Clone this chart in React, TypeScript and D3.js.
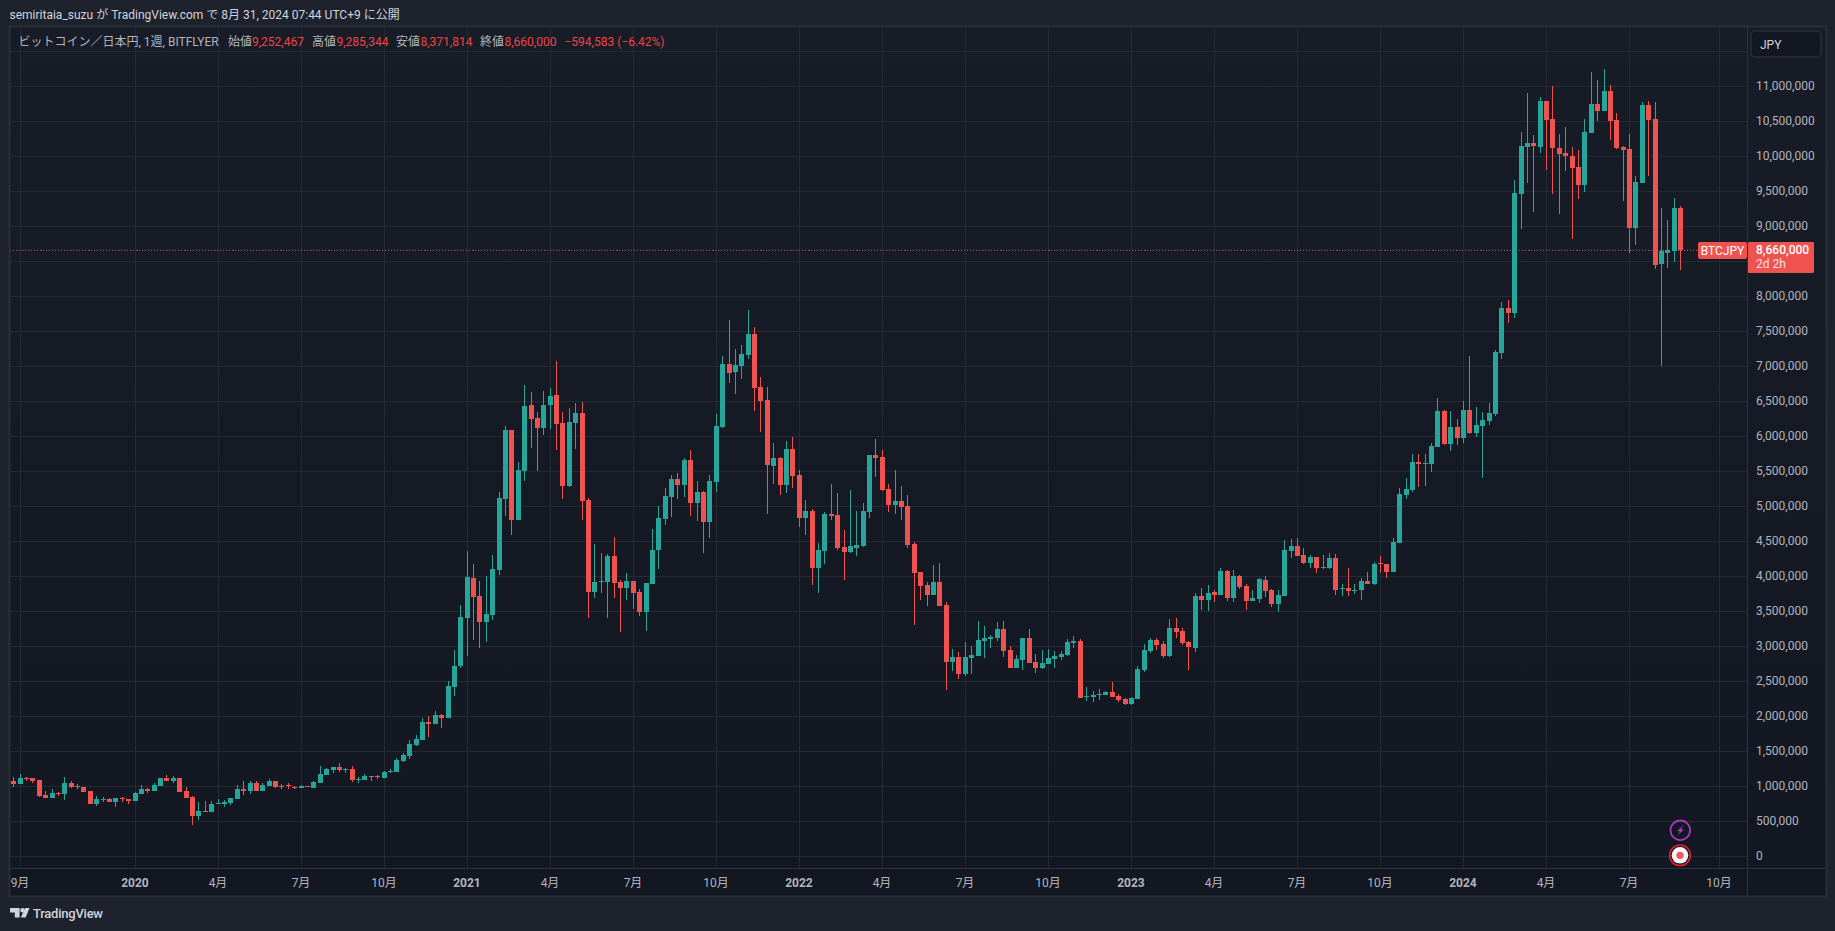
import React from "react";
import * as d3 from "d3";

// Weekly BTC/JPY candles, values in units of 10,000 JPY
const UNIT = 10000;
const opens = [
107.2,103.4,111,111.5,108.6,87.2,83.4,89.6,88.6,104.3,
100.5,98.6,92.9,74.3,80.5,81.5,77.7,82.4,81,78.6,
88.6,95.7,92.9,100,111,107.2,111.5,92.9,84.3,57.2,
64.3,62.9,74.3,74.3,75.8,81.5,95.7,92.9,104.3,92.9,
100,107.2,100.5,101,99,97.7,100,97.2,104.3,115.8,
122.9,127.2,123.4,124.3,109.6,108.6,114.3,114.3,111.5,120.9,
120,135.3,142.9,158.6,165.8,191.5,188.6,201.5,197.1,241.4,
271.4,340,397.1,371.4,334.2,344.2,408.5,510,608.5,480,
550,644.3,625.7,611.4,644.3,658.5,618.5,528.5,618.5,632.8,
508.5,377.1,391.9,391.4,428.5,391.4,382.8,392.8,377.1,348.5,
388.5,437.1,481.4,512.8,538.5,530,565.7,504.3,520,477.1,
534.3,612.8,702.9,691.4,700,715.7,745.7,670,651.4,557.1,
568.6,530,581.4,544.3,482.9,492.9,411.4,435.7,488.6,487.1,
441.4,434.3,440,442.9,491.4,572.9,570,524.3,501.4,507.1,
500,445.7,405.7,387.1,372.9,391.4,358.6,277.1,284.3,260,
282.9,285.7,307.2,310,311.4,324.3,294.3,268.6,280,311.4,
277.1,268.6,274.3,281.4,284.3,287.1,304.3,307.2,227.2,227.2,
230,230,234.3,228.6,224.3,217.2,224.3,265.7,292.9,308.6,
302.9,285.7,325.7,321.4,305.7,297.2,371.4,365.7,377.2,372.9,
407.2,368.6,400,385.7,364.3,367.2,394.3,380,360,371.4,
435.7,442.9,430,418.6,427.2,411.4,411.4,425.7,381.4,382.9,
378.6,380,392.9,388.6,418.6,417.2,405.7,447.2,515.7,522.9,
562.9,560,560,584.3,635.7,588.6,612.9,597.2,637.1,604.3,
614.3,621.4,631.4,718.6,782.9,775.7,945.7,1012.8,1018.6,1012.8,
1078.6,1052.8,1011.4,1004.3,1000,984.3,958.6,1032.8,1074.3,1064.3,
1092.9,1051.4,1012.9,1010,897.1,961.4,1072.9,1052.8,845.7,861.4,864.3,925.2467];

const highs = [
112.4,117.2,112.9,111.5,108.6,92.9,95.7,92,112.9,107.2,
102.9,98.6,92.9,85.8,84.3,82.9,82.9,84.3,81,91.5,
101.5,97.2,104.3,111.5,115.8,114.3,111.5,98.6,85.8,77.2,
78.6,78.6,81.5,80,82.9,101.5,107.2,107.2,107.2,104.3,
110,107.2,102.9,103.8,100.5,101.5,100.5,107.2,128.6,125.8,
127.2,132.9,125.8,128.6,112.9,117.2,114.3,115.8,121.5,124.3,
140,147.2,165.8,172.9,197.2,200,207.2,202.9,250,294.2,
358.5,435.7,417.1,392.8,400,430,520,614.3,608.5,562.8,
672.8,662.8,634.2,664.3,668.5,707.1,634.2,640,647.1,648.5,
511.4,445.7,432.8,431.4,455.7,394.3,404.3,392.8,381.4,390,
467.1,500,525.7,544.3,547.1,568.5,580,535.7,521.4,544.3,
631.4,714.3,765.7,724.3,730,780,755.7,684.3,670,590,
570,592.9,598.6,551.4,508.6,495.7,447.1,491.4,531.4,518.6,
465.7,522.9,492.9,504.3,572.9,595.7,580,531.4,551.4,528.6,
515.7,448.6,405.7,391.4,415.7,418.6,362.9,295.7,291.4,305.7,
300,335.7,328.6,315.7,334.3,335.7,300,287.1,311.4,324.3,
288.6,294.3,295.7,292.9,292.9,310,314.3,310,241.4,235.7,
238.6,235.7,248.6,231.4,225.7,227.2,271.4,302.9,311.4,311.4,
307.2,338.6,340,325.7,307.2,375.7,382.9,387.2,380,411.4,
408.6,408.6,401.4,388.6,380,397.2,400,381.4,380,451.4,
452.9,454.3,440,430,427.2,430,432.9,431.4,388.6,411.4,
388.6,397.2,405.7,420,428.6,417.2,454.3,525.7,540,574.3,
574.3,574.3,590,654.3,637.2,635.7,624.3,650,714.3,641.4,
634.2,647.1,722.9,791.4,794.3,965.7,1034.3,1090,1030,1084.3,
1078.6,1100,1031.4,1041.4,1012.9,1008.6,1052.8,1120,1108.6,1124.3,
1101.4,1061.4,1014.3,1031.4,971.4,1077.1,1078.6,1077.1,925.7,908.6,940,928.5344];

const lows = [
98.6,103.4,107.2,104.3,84.8,83.4,83.4,85.8,80,97.2,
96.2,91.9,74.3,71.5,77.2,77.2,70,77.2,74.3,78.6,
88.6,90,92.9,100,107.2,104.3,91.5,82.9,44.3,51.5,
63.4,62.9,74.3,70,72.9,81.5,87.2,88.6,92.9,92.9,
100,97.2,95.7,95.7,95.7,97.2,98.1,97.2,104.3,115.8,
118.6,120,118.6,105.8,104.3,108.6,107.2,110,111.5,118.6,
120,134.3,138.6,157.2,165.8,170,188.6,182.9,197.1,228.5,
268.5,285.7,308.5,297.1,305.7,337.1,401.4,485.7,458.5,480,
535.7,582.8,550,601.4,610,580,510,527.1,581.4,480,
340,368.5,375.7,340,368.5,320,365.7,352.8,342.8,321.4,
388.5,410,472.8,484.3,510,512.8,485.7,478.5,432.8,454.3,
520,611.4,675.7,660,681.4,710,635.7,605.7,488.6,531.4,
515.7,518.6,525.7,470,458.6,387.1,375.7,417.1,480,437.1,
394.3,432.9,428.6,441.4,482.9,541.4,521.4,491.4,488.6,480,
440,330,365.7,357.1,372.9,357.1,237.1,264.3,252.9,257.1,
260,285.7,282.9,297.2,307.2,284.3,268.6,268.6,265.7,275.7,
261.4,267.2,274.3,268.6,280,285.7,297.2,225.7,221.4,220,
222.9,230,227.2,220,215.7,215.7,224.3,262.9,290,294.3,
282.9,284.3,311.4,301.4,265.7,291.4,351.4,350,362.9,372.9,
364.3,362.9,381.4,351.4,364.3,361.4,370,355.7,348.6,371.4,
425.7,428.6,417.2,411.4,404.3,410,410,372.9,371.4,371.4,
374.3,365.7,388.6,387.2,404.3,397.2,405.7,447.2,510,520,
527.1,528.6,548.6,584.3,587.2,578.6,587.2,590,602.9,598.6,
540,615.7,628.6,710,761.4,768.6,895.7,961.4,920,1004.3,
980,945.7,917.1,978.6,881.4,938.6,948.6,1032.8,1050,1064.3,
1022.9,1010,935.7,861.4,872.9,961.4,971.4,838.6,700,840,848.6,837.1814];

const closes = [
103.4,111.5,109.6,107.2,85.8,83.4,90,88.1,104.3,98.6,
99.6,91.9,74.3,81.5,81.5,77.7,82.9,81.5,78.6,90,
95.7,92.9,101.5,111.5,107.2,111,91.5,82.9,57.2,64.3,
63.4,74.3,75.8,77.2,82.9,95.7,92.9,104.3,92.9,101.5,
107.2,98.6,99.6,99.6,97.7,100,99,105.8,117.2,124.3,
127.2,122.9,124.3,108.6,110.5,114.3,113.4,112.9,120,121.9,
137.2,144.3,160,167.2,191.5,188.6,201.5,197.2,242.8,271.4,
341.4,398.5,370,334.2,345.7,410,511.4,608.5,480,551.4,
642.8,624.3,611.4,644.3,657.1,617.1,528.5,620,632.8,507.1,
377.1,391.4,392.8,428.5,390,382.8,392.8,375.7,348.5,390,
437.1,482.8,514.3,538.5,530,565.7,504.3,520,477.1,535.7,
614.3,702.8,690,701.4,717.1,745.7,668.6,650,558.6,568.6,
530,581.4,542.9,482.9,492.9,411.4,437.1,488.6,485.7,440,
434.3,442.9,444.3,492.9,572.9,568.6,522.9,501.4,507.1,498.6,
444.3,404.3,385.7,372.9,391.4,357.1,277.1,284.3,260,284.3,
287.1,308.6,311.4,312.9,324.3,292.9,268.6,281.4,311.4,275.7,
268.6,275.7,282.9,285.7,288.6,305.7,307.2,225.7,228.6,230,
231.4,234.3,227.2,222.9,217.2,225.7,267.2,294.3,308.6,301.4,
285.7,325.7,320,304.3,298.6,371.4,365.7,375.7,372.9,407.2,
368.6,400,384.3,364.3,368.6,395.7,378.6,360,372.9,437.2,
442.9,428.6,418.6,427.2,411.4,412.4,425.7,380,382.9,378.6,
380,392.9,388.6,417.2,417.2,405.7,448.6,517.1,524.3,562.9,
560,561,585.7,635.7,588.6,612.9,597.2,637.1,604.3,615.7,
622.9,632.9,720,782.9,775.7,947.1,1014.3,1018.6,1014.3,1078.6,
1051.4,1011.4,1002.9,1000,982.9,958.6,1034.3,1074.3,1064.3,1092.9,
1050,1011.4,1008.6,897.1,962.9,1072.9,1051.4,844.3,864.3,865.2,925.7,866];

// x-axis ticks: week index and label
const tickIdx = [1,19,32,45,58,71,84,97,110,123,136,149,162,175,188,201,214,227,240,253,267];
const tickLabels = ["9月","2020","4月","7月","10月","2021","4月","7月","10月","2022","4月","7月","10月","2023","4月","7月","10月","2024","4月","7月","10月"];
const priceTicks = d3.range(0, 11500000 + 1, 500000);
const lastPrice = 8660000;

const legendItems: [string, number, string][] = [
  ["ビットコイン／日本円, 1週, BITFLYER", 18.5, "#b2b5be"],
  ["始値", 228, "#b2b5be"], ["9,252,467", 252, "#ef4444"],
  ["高値", 312, "#b2b5be"], ["9,285,344", 336.5, "#ef4444"],
  ["安値", 396, "#b2b5be"], ["8,371,814", 420.5, "#ef4444"],
  ["終値", 480, "#b2b5be"], ["8,660,000", 504.5, "#ef4444"],
  ["−594,583 (−6.42%)", 564.5, "#ef4444"],
];

const UP = "#26a69a";
const DOWN = "#ef5350";
const GRID = "#262a35";
const FONT = "Roboto, 'Noto Sans CJK JP', sans-serif";

export default function App() {
  const W = 1835, H = 931;
  const L = 10, R = 1826, T = 27, B = 896, AX = 1747, AY = 868;
  const x = d3.scaleLinear().domain([0, 261]).range([13.2, 1680.2]);
  const y = d3.scaleLinear().domain([0, 11500000]).range([856, 51]);
  const px = (i: number) => Math.round(x(i));
  const py = (v: number) => Math.round(y(v));

  return (
    <svg width={W} height={H} viewBox={`0 0 ${W} ${H}`} style={{ position: "fixed", left: 0, top: 0, display: "block" }} fontFamily={FONT}>
      <defs>
        <linearGradient id="bg" x1="0" y1="0" x2="0" y2="1">
          <stop offset="0" stopColor="#181c27" />
          <stop offset="1" stopColor="#131722" />
        </linearGradient>
        <clipPath id="pane"><rect x={L} y={T} width={AX - L} height={AY - T} /></clipPath>
      </defs>
      <rect width={W} height={H} fill="#1e222d" />
      <rect x={L} y={T} width={R - L} height={B - T} fill="url(#bg)" />

      {/* grid */}
      <g clipPath="url(#pane)">
        {priceTicks.map((v) => <rect key={v} x={L} y={py(v)} width={AX - L} height={1} fill={GRID} />)}
        {tickIdx.map((i) => <rect key={i} x={px(i)} y={T} width={1} height={AY - T} fill={GRID} />)}
        {/* last price line */}
        <line x1={L} x2={1698} y1={y(lastPrice) + 0.5} y2={y(lastPrice) + 0.5} stroke={DOWN} strokeWidth={1} strokeDasharray="1 2" />
        {/* candles */}
        {opens.map((o, i) => {
          const c = closes[i];
          const col = c >= o ? UP : DOWN;
          const top = py(Math.max(o, c) * UNIT);
          const bot = py(Math.min(o, c) * UNIT);
          const hi = py(highs[i] * UNIT);
          const lo = py(lows[i] * UNIT);
          return (
            <g key={i} fill={col}>
              <rect x={px(i)} y={hi} width={1} height={Math.max(1, lo - hi)} />
              <rect x={px(i) - 2} y={top} width={5} height={Math.max(1, bot - top)} />
            </g>
          );
        })}
      </g>

      {/* frame */}
      <rect x={L - 0.5} y={T - 0.5} width={R - L + 1} height={B - T + 1} fill="none" stroke="#2a2e39" strokeWidth={2} />
      <rect x={AX} y={T} width={1} height={B - T} fill="#2e323d" />
      <rect x={L} y={AY} width={R - L} height={1} fill="#2e323d" />

      {/* price axis labels */}
      {priceTicks.filter((v) => v <= 11000000).map((v) => (
        <text key={v} x={1756} y={y(v) - 0.5} dominantBaseline="central" fontSize={12} fill="#b2b5be">{d3.format(",")(v)}</text>
      ))}

      {/* time axis labels */}
      {tickIdx.map((i, k) => (
        <text key={i} x={px(i)} y={882.5} textAnchor="middle" dominantBaseline="central" fontSize={12}
          fontWeight={/^\d{4}$/.test(tickLabels[k]) ? 700 : 400} fill="#b2b5be">{tickLabels[k]}</text>
      ))}

      {/* currency button */}
      <rect x={1751} y={31} width={70} height={26} rx={4} fill="#131722" stroke="#2a2e39" strokeWidth={1.5} />
      <text x={1760} y={44.5} dominantBaseline="central" fontSize={12} fill="#d1d4dc">JPY</text>

      {/* header */}
      <text x={9.5} y={14.5} dominantBaseline="central" fontSize={12} fill="#d1d4dc">semiritaia_suzu が TradingView.com で 8月 31, 2024 07:44 UTC+9 に公開</text>

      {/* legend */}
      {legendItems.map(([t, lx, col], i) => (
        <text key={i} x={lx} y={42} dominantBaseline="central" fontSize={12} fill={col}>{t}</text>
      ))}

      {/* last price labels */}
      <rect x={1698} y={242} width={49} height={17} rx={2} fill={DOWN} />
      <text x={1722.5} y={250.5} textAnchor="middle" dominantBaseline="central" fontSize={12} fill="#fff">BTCJPY</text>
      <rect x={1748} y={242} width={66} height={31} rx={1} fill={DOWN} />
      <text x={1756} y={249.5} dominantBaseline="central" fontSize={12} fontWeight={500} fill="#fff">8,660,000</text>
      <text x={1756} y={264} dominantBaseline="central" fontSize={12} fill="#fde3e3">2d 2h</text>

      {/* event icons */}
      <circle cx={1680.3} cy={830.3} r={9.8} fill="#131722" stroke="#a23cb8" strokeWidth={1.8} />
      <path d="M1684 824.5 L1677 831.2 L1680.3 831.2 L1676.6 836 L1684 829.6 L1680.6 829.6 Z" fill="#a845bd" />
      <circle cx={1680} cy={855.3} r={10.3} fill="#131722" stroke="#e0202e" strokeWidth={1.6} />
      <circle cx={1680} cy={855.3} r={8.3} fill="#f5f6f8" />
      <circle cx={1680} cy={855.3} r={3.6} fill="#f7525f" />

      {/* TradingView logo */}
      <g fill="#d1d4dc">
        <path d="M10 908 H19.6 V917.6 H14.8 V912.4 H10 Z" />
        <circle cx={22.6} cy={910.2} r={2.3} />
        <path d="M25.2 908 H29.6 L25.6 917.6 H20.8 Z" />
      </g>
      <text x={33} y={913.5} dominantBaseline="central" fontSize={13} fontWeight={500} textLength={70} fill="#d1d4dc">TradingView</text>
    </svg>
  );
}
